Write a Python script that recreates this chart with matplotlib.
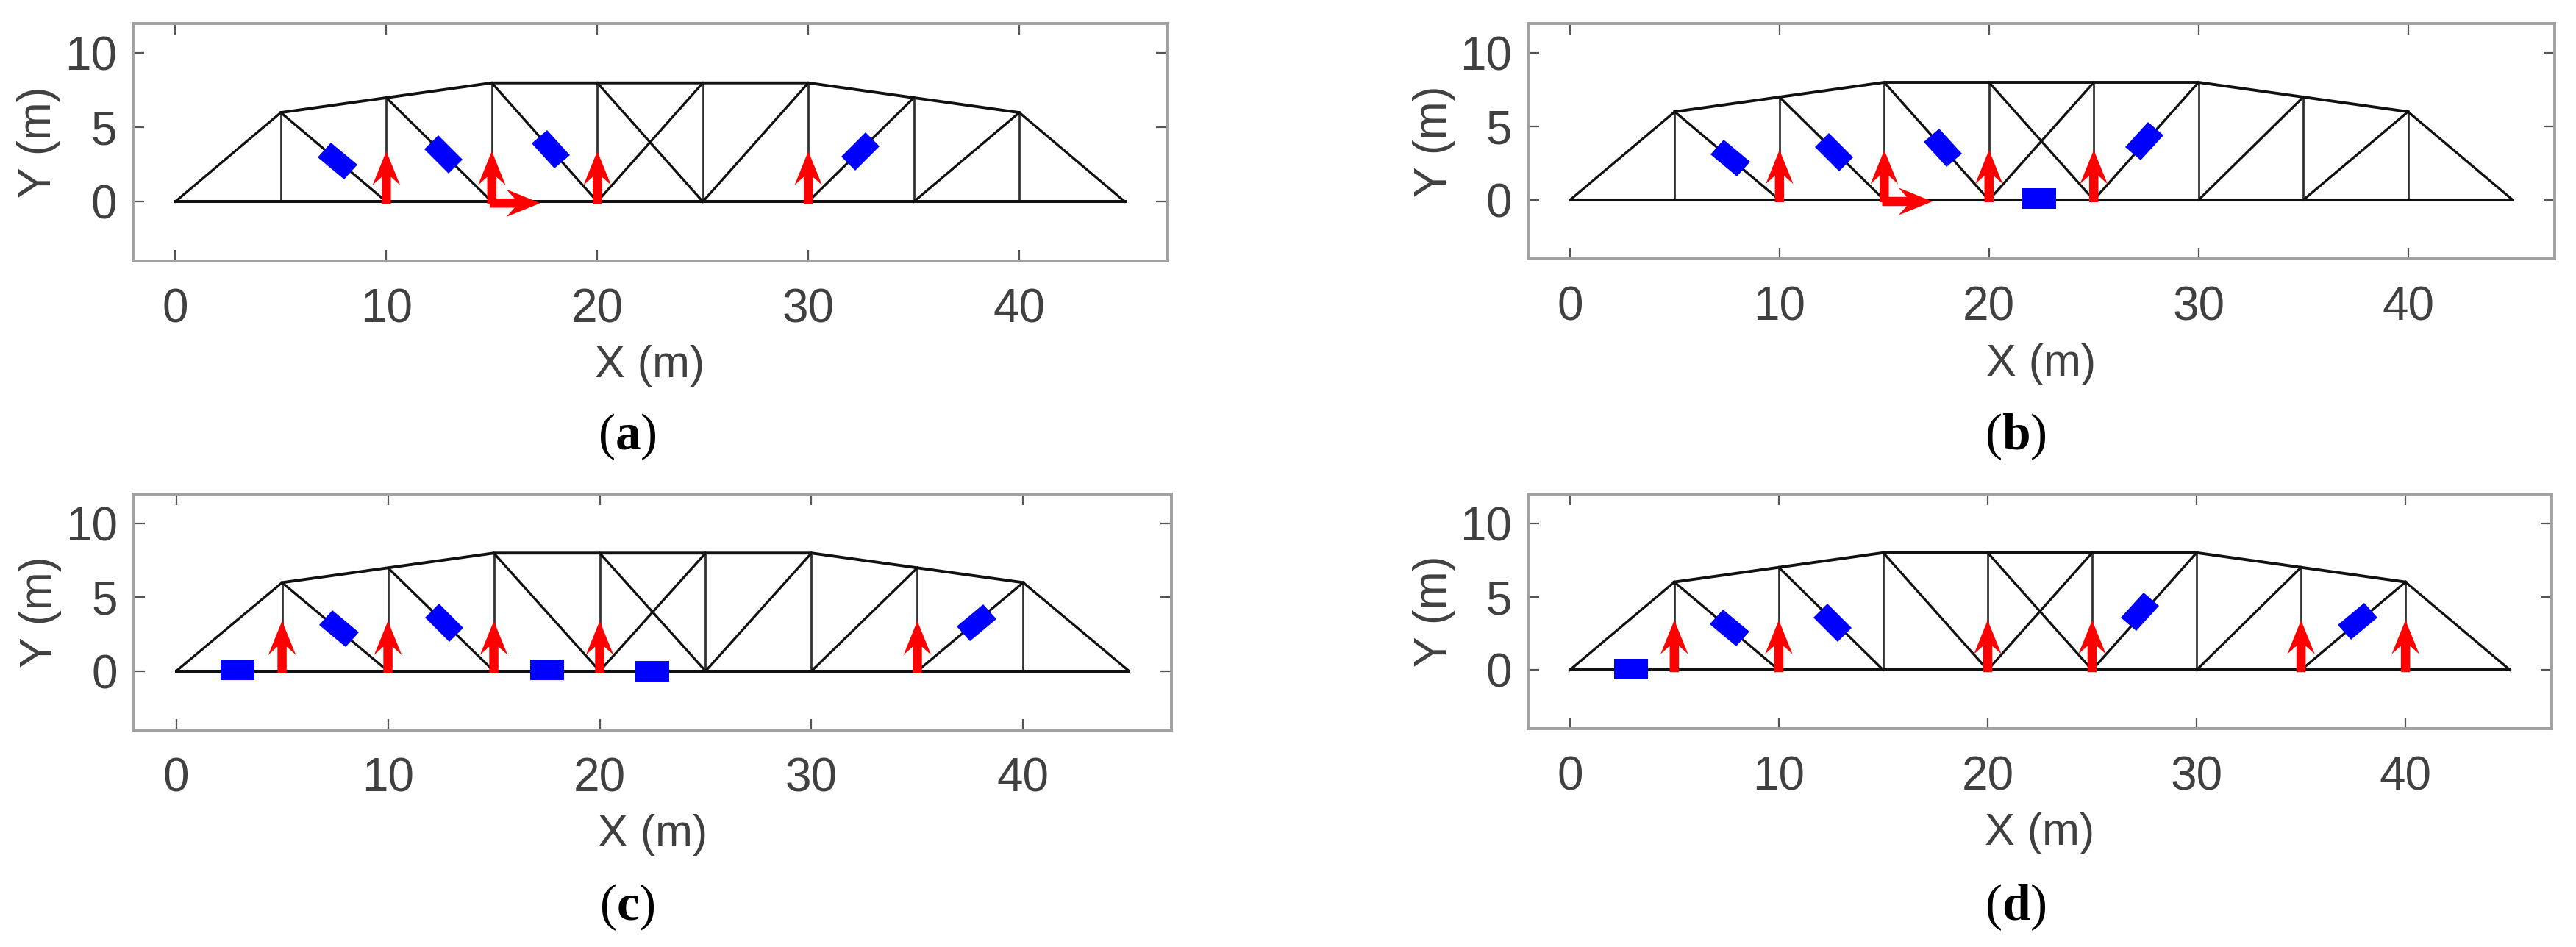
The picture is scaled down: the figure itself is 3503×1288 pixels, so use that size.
import numpy as np
import matplotlib
matplotlib.use('Agg')
import matplotlib.pyplot as plt
from matplotlib.markers import MarkerStyle
from matplotlib.transforms import Affine2D

plt.rcParams['font.family'] = ['Liberation Sans', 'DejaVu Sans']
plt.rcParams['mathtext.fontset'] = 'custom'
plt.rcParams['mathtext.bf'] = 'Liberation Serif:bold'

W, H = 3503, 1288

# truss geometry, same for every panel
bottom_x = [0, 45]
bottom_y = [0, 0]
top_x = [5, 10, 15, 20, 25, 30, 35, 40]
top_y = [6, 7, 8, 8, 8, 8, 7, 6]
# diagonals: x1, y1, x2, y2
diag_x1 = [0, 5, 10, 15, 20, 20, 25, 30, 35, 40]
diag_y1 = [0, 6, 7, 8, 8, 0, 0, 0, 0, 6]
diag_x2 = [5, 10, 15, 20, 25, 25, 30, 35, 40, 45]
diag_y2 = [6, 0, 0, 0, 0, 8, 8, 7, 6, 0]

# blue sensors: centre and rise of the member over a 5 m run
sensor_x_a = [7.68, 12.7, 17.8, 32.46]
sensor_y_a = [2.75, 3.16, 3.53, 3.37]
sensor_rise_a = [-6, -7, -8, 7]

sensor_x_b = [7.65, 12.6, 17.8, 27.4, 22.4]
sensor_y_b = [2.86, 3.27, 3.54, 4.0, 0.08]
sensor_rise_b = [-6, -7, -8, 8, 0]

sensor_x_c = [7.7, 12.67, 37.8, 2.9, 17.5, 22.5]
sensor_y_c = [2.88, 3.29, 3.29, 0.1, 0.1, 0.0]
sensor_rise_c = [-6, -7, 6, 0, 0, 0]

sensor_x_d = [7.65, 12.56, 27.3, 37.7, 2.94]
sensor_y_d = [2.86, 3.2, 3.98, 3.3, 0.06]
sensor_rise_d = [-6, -7, 8, 6, 0]

# red arrows
arrow_up_a = [10, 15, 20, 30]
arrow_up_b = [10, 15, 20, 25]
arrow_up_c = [5, 10, 15, 20, 35]
arrow_up_d = [5, 10, 20, 25, 35, 40]
arrow_right_a = [14.9]
arrow_right_b = [14.9]
arrow_right_c = []
arrow_right_d = []
arrow_up_len = 3.55
arrow_right_len = 2.4

x_ticks = [0, 10, 20, 30, 40]
y_ticks = [0, 5, 10]

panels = [
    ('a', (181, 32, 1587, 355), sensor_x_a, sensor_y_a, sensor_rise_a, arrow_up_a, arrow_right_a, 853, 594),
    ('b', (2078, 32, 3474, 352), sensor_x_b, sensor_y_b, sensor_rise_b, arrow_up_b, arrow_right_b, 2741, 594),
    ('c', (182, 672, 1593, 993), sensor_x_c, sensor_y_c, sensor_rise_c, arrow_up_c, arrow_right_c, 853, 1234),
    ('d', (2078, 672, 3470, 991), sensor_x_d, sensor_y_d, sensor_rise_d, arrow_up_d, arrow_right_d, 2741, 1234),
]

fig = plt.figure(figsize=(W / 100, H / 100), dpi=100)

for name, box, sx, sy, srise, up, right, cap_x, cap_y in panels:
    l, t, r, b = box
    ax = fig.add_axes([l / W, 1 - b / H, (r - l) / W, (b - t) / H])
    ax.set_xlim(-2, 47)
    ax.set_ylim(-4, 12)

    # verticals
    for x, y in zip(top_x, top_y):
        ax.plot([x, x], [0, y], color='#333333', lw=2.0, zorder=2)
    # diagonals
    for x1, y1, x2, y2 in zip(diag_x1, diag_y1, diag_x2, diag_y2):
        ax.plot([x1, x2], [y1, y2], color='#111111', lw=2.4, zorder=2)
    # chords
    ax.plot(top_x, top_y, color='#111111', lw=2.8, zorder=3)
    ax.plot(bottom_x, bottom_y, color='#111111', lw=2.9, zorder=3)

    # sensors, turned with the member on screen
    sx_per_unit = (r - l) / 49
    sy_per_unit = (b - t) / 16
    for x, y, rise in zip(sx, sy, srise):
        ang = np.degrees(np.arctan2(rise * sy_per_unit, 5 * sx_per_unit))
        m = MarkerStyle('s', transform=Affine2D().scale(1.72, 1).rotate_deg(ang))
        ax.plot([x], [y], marker=m, ms=19.5, color='#0000ff', mew=0, ls='none', zorder=4)

    # arrows
    ax.quiver(up, np.zeros(len(up)) - 0.15, np.zeros(len(up)), np.full(len(up), arrow_up_len),
              angles='xy', scale_units='xy', scale=1, units='dots', width=12.5,
              headwidth=3.0, headlength=3.7, headaxislength=2.8, color='#ff0000', zorder=5)
    if right:
        ax.quiver(right, np.zeros(len(right)) - 0.1, np.full(len(right), arrow_right_len), np.zeros(len(right)),
                  angles='xy', scale_units='xy', scale=1, units='dots', width=12.5,
                  headwidth=3.0, headlength=3.7, headaxislength=2.8, color='#ff0000', zorder=5)

    ax.set_xticks(x_ticks)
    ax.set_yticks(y_ticks)
    ax.tick_params(axis='both', direction='in', length=11, width=1.6, color='#555555',
                   top=True, right=True, labelsize=46, labelcolor='#404040')
    ax.tick_params(axis='x', pad=26)
    ax.tick_params(axis='y', pad=16)
    for s in ax.spines.values():
        s.set_color('#a0a0a0')
        s.set_linewidth(2.8)

    ax.set_xlabel('X (m)', fontsize=44, color='#404040')
    ax.set_ylabel('Y (m)', fontsize=45, color='#404040')
    ax.xaxis.label.set_va('center')
    ax.yaxis.label.set_va('center')
    ax.xaxis.set_label_coords(0.5, -143 / (b - t))
    ax.yaxis.set_label_coords(-128 / (r - l), 0.5)

    fig.text(cap_x / W, 1 - cap_y / H, r'($\mathbf{%s}$)' % name, family='Liberation Serif',
             fontsize=50, ha='center', va='center', color='black')

fig.savefig('out.png', dpi=100, facecolor='white')
